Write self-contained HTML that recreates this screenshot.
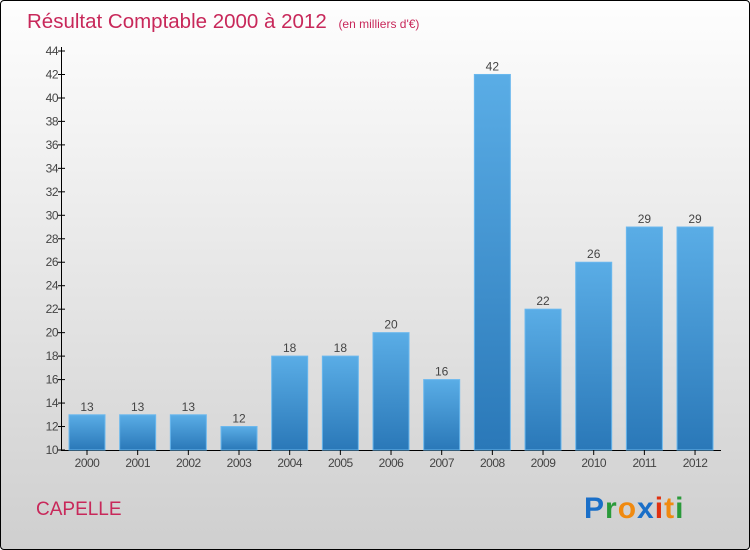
<!DOCTYPE html>
<html><head><meta charset="utf-8"><style>
body{margin:0}
#c{position:relative;width:748px;height:548px;border:1px solid #000;border-radius:4px;overflow:hidden;background:linear-gradient(#fefefe,#cfcfcf);font-family:"Liberation Sans",sans-serif}
</style></head><body>
<div id="c">
<svg id="s" width="748" height="548">
<defs><linearGradient id="g" x1="0" y1="0" x2="0" y2="1"><stop offset="0" stop-color="#5aade6"/><stop offset="1" stop-color="#2a78b8"/></linearGradient></defs>
<text x="26" y="27" font-size="20.5" fill="#c8285a">Résultat Comptable 2000 à 2012 <tspan font-size="12" dx="6">(en milliers d'€)</tspan></text>
<text x="35" y="514" font-size="19" fill="#c8285a">CAPELLE</text>
<text x="583" y="517" font-size="30" font-weight="bold" letter-spacing="1"><tspan fill="#1a6fc8">P</tspan><tspan fill="#2a9a3a">r</tspan><tspan fill="#f08a10">o</tspan><tspan fill="#1a6fc8">x</tspan><tspan fill="#e03010">i</tspan><tspan fill="#f08a10">t</tspan><tspan fill="#2a9a3a">i</tspan></text>
<g id="plot"></g>
</svg></div>
<script>
const categories=["2000","2001","2002","2003","2004","2005","2006","2007","2008","2009","2010","2011","2012"];
const values=[13,13,13,12,18,18,20,16,42,22,26,29,29];
const yTicks=[10,12,14,16,18,20,22,24,26,28,30,32,34,36,38,40,42,44];
const NS="http://www.w3.org/2000/svg",p=document.getElementById('plot');
const y=v=>449-(v-10)*(449-50)/34, x=i=>86+i*50.67;
function mk(t,a,txt){const e=document.createElementNS(NS,t);for(const k in a)e.setAttribute(k,a[k]);if(txt!=null)e.textContent=txt;p.appendChild(e);return e;}
let e=mk('line',{x1:60.5,y1:46,x2:60.5,y2:449.5,stroke:'#000'});

e=mk('line',{x1:60,y1:449.5,x2:720,y2:449.5,stroke:'#000'});

yTicks.forEach(v=>{
 mk('line',{x1:57,x2:64,y1:y(v),y2:y(v),stroke:'#000'});
 e=mk('text',{x:57,y:y(v)+4,'font-size':12,'text-anchor':'end',fill:'#444','letter-spacing':'-0.5'},v);
 
});
categories.forEach((c,i)=>{
 const v=values[i];
 e=mk('rect',{x:x(i)-18,y:y(v),width:36,height:449-y(v),fill:'url(#g)',stroke:'#6ab8ee','stroke-width':1});
 
 e=mk('text',{x:x(i),y:y(v)-4,'font-size':12,'text-anchor':'middle',fill:'#444'},v);
 
 mk('line',{x1:x(i),x2:x(i),y1:449,y2:454,stroke:'#000'});
 e=mk('text',{x:x(i),y:466,'font-size':12,'text-anchor':'middle',fill:'#444','letter-spacing':'-0.5'},c);
 
});
</script>
</body></html>
